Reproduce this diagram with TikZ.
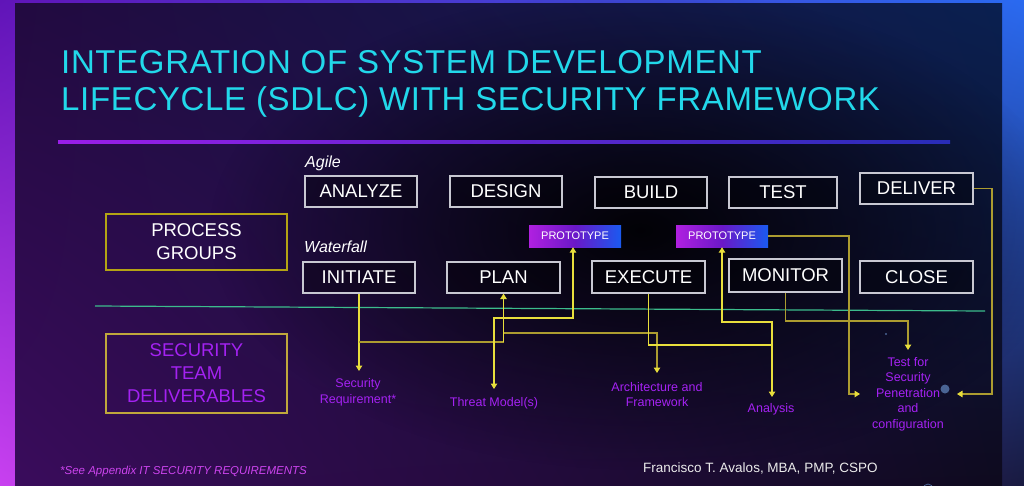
\documentclass[tikz,border=0pt]{standalone}
\usepackage{fontspec}
\setmainfont{Liberation Sans}
\newfontfamily\titlefont[LetterSpace=2]{Liberation Sans}
\usetikzlibrary{arrows.meta,fadings,shadings}

\definecolor{titlecyan}{HTML}{22D8EA}
\definecolor{boxgray}{HTML}{C8C8D2}
\definecolor{pgborder}{HTML}{B4A414}
\definecolor{stborder}{HTML}{C0A83C}
\definecolor{secpurple}{HTML}{A422F2}
\definecolor{footpink}{HTML}{CC44EE}
\definecolor{yel}{HTML}{E8DE3C}
\definecolor{yeldim}{HTML}{AC9C30}
\definecolor{greenline}{HTML}{3CBC8C}
\definecolor{dotblue}{HTML}{4A6494}
\definecolor{protoL}{HTML}{B020E0}
\definecolor{protoM}{HTML}{6A18C8}
\definecolor{protoR}{HTML}{1A5AF0}
\definecolor{frUL}{RGB}{96,20,184}
\definecolor{frUR}{RGB}{42,106,240}
\definecolor{frLL}{RGB}{200,64,240}
\definecolor{frLR}{RGB}{24,26,64}
\definecolor{paUL}{RGB}{34,10,64}
\definecolor{paUR}{RGB}{10,32,80}
\definecolor{paLL}{RGB}{58,12,92}
\definecolor{paLR}{RGB}{14,10,30}
\definecolor{ulL}{RGB}{154,30,232}
\definecolor{ulR}{RGB}{40,44,184}
\definecolor{authorwhite}{RGB}{235,235,235}

\tikzfading[name=darkcore, inner color=transparent!0, outer color=transparent!100]

\tikzset{
  stage/.style={draw=boxgray, line width=1.2pt, fill=black, fill opacity=0.3, text opacity=1,
    text=white, font=\fontsize{18.5}{20}\selectfont, minimum width=112pt, minimum height=31pt, inner sep=0pt},
  group/.style={draw=#1, line width=1.4pt, minimum width=181pt, inner sep=0pt, align=center,
    font=\fontsize{18.5}{23}\selectfont},
  proto/.style={left color=protoL, right color=protoR, middle color=protoM, minimum width=92pt,
    minimum height=22pt, inner sep=0pt, text=white, font=\fontsize{11}{12}\selectfont},
  deliv/.style={text=secpurple, align=center, font=\fontsize{12.5}{15.5}\selectfont, inner sep=0pt},
  method/.style={text=white, font=\fontsize{16}{18}\selectfont\itshape, anchor=west, inner sep=0pt},
  link/.style={draw=yel, line width=1.1pt},
  dimlink/.style={draw=yeldim, line width=1.1pt},
}

\begin{document}
\begin{tikzpicture}[x=1pt,y=-1pt, >={Triangle[length=5.5pt,width=6.5pt,color=yel]}]
\useasboundingbox (0,0) rectangle (1024,485);
% frame
\shade[upper left=frUL, upper right=frUR, lower left=frLL, lower right=frLR] (0,0) rectangle (1024,485);
% inner panel
\shade[upper left=paUL, upper right=paUR, lower left=paLL, lower right=paLR] (15,3) rectangle (1002,485);
\fill[black, path fading=darkcore, fill opacity=0.9] (640,230) ellipse [x radius=430, y radius=240];

% title
\node[anchor=base west, inner sep=0pt, text=titlecyan, font=\titlefont\fontsize{33}{36}\selectfont] (t1) at (61,73) {INTEGRATION OF SYSTEM DEVELOPMENT};
\node[anchor=base west, inner sep=0pt, text=titlecyan, font=\titlefont\fontsize{33}{36}\selectfont] (t2) at (61,110) {LIFECYCLE (SDLC) WITH SECURITY FRAMEWORK};
\shade[left color=ulL, right color=ulR] (58,140.8) rectangle (950,143.2);

% separator
\draw[greenline, line width=1.2pt] (95,306) -- (985,311);

% side boxes
\node[group=pgborder, minimum height=56pt, text=white] (pg) at (196.5,242) {PROCESS\\GROUPS};
\node[group=stborder, minimum height=79pt, text=secpurple] (st) at (196.5,373.5) {SECURITY\\TEAM\\DELIVERABLES};

% method labels
\node[method] (agile) at (305,163) {Agile};
\node[method] (waterfall) at (304,247) {Waterfall};

% agile row
\node[stage] (analyze) at (361,191.5) {ANALYZE};
\node[stage] (design) at (506,191.5) {DESIGN};
\node[stage] (build) at (651,192.5) {BUILD};
\node[stage, minimum width=108pt] (test) at (783,192.5) {TEST};
\node[stage, minimum width=113pt] (deliver) at (916.5,188.5) {DELIVER};

% prototypes
\node[proto] (proto1) at (575,236) {PROTOTYPE};
\node[proto] (proto2) at (722,236) {PROTOTYPE};

% waterfall row
\node[stage] (initiate) at (359,277.5) {INITIATE};
\node[stage, minimum width=113pt] (plan) at (503.5,277.5) {PLAN};
\node[stage, minimum width=113pt, minimum height=32pt] (execute) at (648.5,277) {EXECUTE};
\node[stage, minimum width=113pt, minimum height=33pt] (monitor) at (785.5,275.5) {MONITOR};
\node[stage, minimum width=113pt, minimum height=32pt] (close) at (916.5,277) {CLOSE};

% deliverables
\node[deliv] (secreq) at (358,392.5) {Security\\Requirement*};
\node[deliv] (threat) at (494,403) {Threat Model(s)};
\node[deliv] (arch) at (657,394.5) {Architecture and\\Framework};
\node[deliv] (analysis) at (771,409) {Analysis};
\node[deliv] (testsec) at (908,394) {Test for\\Security\\Penetration\\and\\configuration};

% arrow end points
\coordinate (srT) at (359,371);
\coordinate (tmT) at (494,389);
\coordinate (arT) at (657,373);
\coordinate (anT) at (772,397);
\coordinate (tsT) at (908,350);
\coordinate (tsL) at (860,394);
\coordinate (tsR) at (957,394);
\coordinate (j1) at (359,342);
\coordinate (p1b) at ([xshift=-2pt]proto1.south);

% connectors
\draw[link,->] (initiate.south) -- (srT);
\draw[dimlink] (j1) -- (plan.south |- j1);
\draw[link,->] (plan.south |- j1) -- (plan.south);
\draw[dimlink,->] (plan.south |- 0,333) -| (arT);
\draw[link,<->] (tmT) |- (p1b |- 0,318) -- (p1b);
\draw[link] (execute.south) |- (anT |- 0,345);
\draw[link,<->] (proto2.south) |- (anT |- 0,322) -- (anT);
\draw[dimlink,->] (monitor.south) |- (tsT |- 0,321) -- (tsT);
\draw[dimlink,->] (proto2.east) -| (849,394) -- (tsL);
\draw[dimlink,->] (deliver.east) -| (992,394) -- (tsR);

% dots
\fill[dotblue] (945,389) circle (4.5);
\fill[dotblue] (886,334) circle (1.1);
\draw[dotblue, line width=0.8pt] (928,489) circle (5);

% footer
\node[anchor=base west, inner sep=0pt, text=footpink, font=\fontsize{11.5}{13}\selectfont\itshape] (note) at (60,474) {*See Appendix IT SECURITY REQUIREMENTS};
\node[anchor=base west, inner sep=0pt, text=authorwhite, font=\fontsize{13.5}{15}\selectfont] (author) at (643,472) {Francisco T. Avalos, MBA, PMP, CSPO};
\end{tikzpicture}
\end{document}
